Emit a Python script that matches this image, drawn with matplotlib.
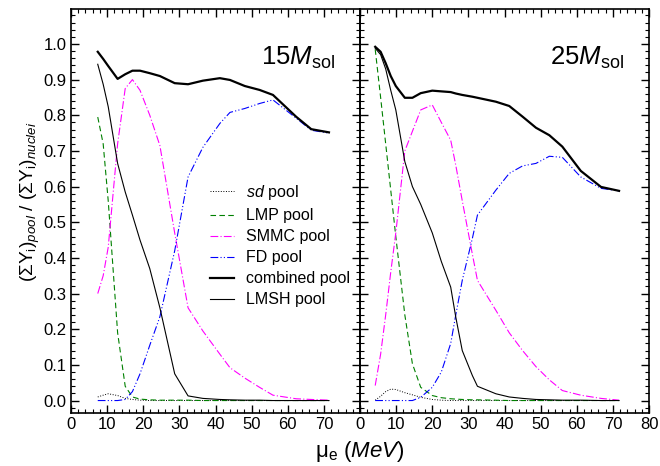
import matplotlib
matplotlib.use("Agg")
import matplotlib.pyplot as plt
from matplotlib.ticker import MultipleLocator, FormatStrFormatter

plt.rcParams['font.family'] = ['Liberation Sans', 'DejaVu Sans']
plt.rcParams['mathtext.fontset'] = 'custom'
plt.rcParams['mathtext.rm'] = 'Liberation Sans'
plt.rcParams['mathtext.it'] = 'Liberation Sans:italic'
plt.rcParams['mathtext.bf'] = 'Liberation Sans:bold'

# ---------- 15 M_sol ----------
mu_15 = [7.4, 8.9, 10.3, 12.9, 15.0, 17.0, 19.1, 21.8, 24.6, 28.7, 32.4, 36.5,
         41.2, 44.0, 48.1, 52.2, 55.9, 62.3, 66.5, 71.4]
sd_15 = [0.010, 0.015, 0.019, 0.014, 0.006, 0.003, 0.001, 0.0, 0.0, 0.0, 0.0, 0.0,
         0.0, 0.0, 0.0, 0.0, 0.0, 0.0, 0.0, 0.0]
lmp_15 = [0.795, 0.72, 0.56, 0.19, 0.04, 0.01, 0.004, 0.002, 0.001, 0.001, 0.001, 0.0,
          0.0, 0.0, 0.0, 0.0, 0.0, 0.0, 0.0, 0.0]
smmc_15 = [0.30, 0.35, 0.43, 0.72, 0.875, 0.90, 0.87, 0.80, 0.715, 0.47, 0.26, 0.195,
           0.13, 0.092, 0.063, 0.037, 0.015, 0.005, 0.003, 0.001]
fd_15 = [0.0, 0.0, 0.0, 0.0, 0.003, 0.025, 0.075, 0.155, 0.235, 0.42, 0.627, 0.71,
         0.777, 0.808, 0.819, 0.833, 0.843, 0.792, 0.758, 0.75]
comb_15 = [0.978, 0.958, 0.938, 0.902, 0.915, 0.925, 0.925, 0.918, 0.91, 0.89, 0.887, 0.897,
           0.904, 0.899, 0.882, 0.871, 0.857, 0.796, 0.761, 0.752]
lmsh_15 = [0.943, 0.887, 0.824, 0.665, 0.585, 0.52, 0.45, 0.37, 0.26, 0.075, 0.013, 0.006,
           0.003, 0.002, 0.001, 0.001, 0.0, 0.0, 0.0, 0.0]

# ---------- 25 M_sol ----------
mu_25 = [4.2, 5.7, 7.1, 8.5, 9.9, 12.4, 14.5, 16.8, 20.0, 22.5, 25.1, 26.5, 28.3,
         31.1, 32.5, 37.6, 41.3, 45.0, 48.7, 52.4, 56.0, 61.1, 66.7, 71.7]
sd_25 = [0.001, 0.012, 0.025, 0.032, 0.031, 0.022, 0.016, 0.009, 0.003, 0.001, 0.0, 0.0, 0.0,
         0.0, 0.0, 0.0, 0.0, 0.0, 0.0, 0.0, 0.0, 0.0, 0.0, 0.0]
lmp_25 = [0.985, 0.85, 0.72, 0.59, 0.46, 0.24, 0.103, 0.037, 0.014, 0.008, 0.005, 0.004, 0.003,
          0.002, 0.002, 0.001, 0.0, 0.0, 0.0, 0.0, 0.0, 0.0, 0.0, 0.0]
smmc_25 = [0.042, 0.13, 0.24, 0.36, 0.47, 0.70, 0.755, 0.815, 0.829, 0.78, 0.73, 0.66, 0.56,
           0.41, 0.337, 0.253, 0.19, 0.14, 0.095, 0.058, 0.028, 0.015, 0.006, 0.001]
fd_25 = [0.0, 0.0, 0.0, 0.0, 0.0, 0.0, 0.0, 0.009, 0.037, 0.08, 0.16, 0.24, 0.337,
         0.455, 0.52, 0.59, 0.637, 0.658, 0.665, 0.685, 0.682, 0.627, 0.595, 0.588]
comb_25 = [0.992, 0.978, 0.946, 0.91, 0.882, 0.849, 0.849, 0.862, 0.869, 0.867, 0.865, 0.861, 0.857,
           0.852, 0.849, 0.838, 0.826, 0.796, 0.765, 0.744, 0.712, 0.644, 0.599, 0.588]
lmsh_25 = [0.988, 0.97, 0.93, 0.87, 0.815, 0.67, 0.60, 0.55, 0.47, 0.39, 0.318, 0.234, 0.14,
           0.07, 0.04, 0.019, 0.01, 0.006, 0.003, 0.002, 0.001, 0.001, 0.0, 0.0]

y_ticks = [0.0, 0.1, 0.2, 0.3, 0.4, 0.5, 0.6, 0.7, 0.8, 0.9, 1.0]

panels = [
    (mu_15, sd_15, lmp_15, smmc_15, fd_15, comb_15, lmsh_15, r'15$M_{\mathrm{sol}}$'),
    (mu_25, sd_25, lmp_25, smmc_25, fd_25, comb_25, lmsh_25, r'25$M_{\mathrm{sol}}$'),
]

fig = plt.figure(figsize=(6.6, 4.66), dpi=100)
ax1 = fig.add_axes([0.1076, 0.1137, 0.4379, 0.867])
ax2 = fig.add_axes([0.5455, 0.1137, 0.4379, 0.867])

for ax, (mu, sd, lmp, smmc, fd, comb, lmsh, title) in zip([ax1, ax2], panels):
    ax.plot(mu, sd, color='black', linestyle=':', linewidth=0.7, label=r'$sd$ pool')
    ax.plot(mu, lmp, color='green', linestyle=(0, (5, 3)), linewidth=0.8, label='LMP pool')
    ax.plot(mu, smmc, color='magenta', linestyle=(0, (7, 2, 1, 2)), linewidth=0.8, label='SMMC pool')
    ax.plot(mu, fd, color='blue', linestyle=(0, (7, 2, 1, 2, 1, 2)), linewidth=0.8, label='FD pool')
    ax.plot(mu, comb, color='black', linewidth=1.6, label='combined pool')
    ax.plot(mu, lmsh, color='black', linewidth=0.8, label='LMSH pool')

    ax.set_xlim(0, 80)
    ax.set_ylim(-0.035, 1.098)
    ax.xaxis.set_minor_locator(MultipleLocator(2))
    ax.set_yticks(y_ticks)
    ax.yaxis.set_minor_locator(MultipleLocator(0.02))
    ax.yaxis.set_major_formatter(FormatStrFormatter('%.1f'))
    ax.tick_params(which='both', direction='in', top=True, right=True, labelsize=12, pad=3)
    ax.tick_params(which='major', length=6, width=1)
    ax.tick_params(which='minor', length=3, width=0.8)
    for s in ax.spines.values():
        s.set_linewidth(1.2)
    ax.text(0.912, 0.88, title, transform=ax.transAxes, ha='right', va='center', fontsize=18.5)

ax1.set_xticks(range(0, 80, 10))
ax2.set_xticks(range(0, 81, 10))
ax2.tick_params(labelleft=False)
ax2.patch.set_alpha(0)

ax1.set_ylabel(r'$(\Sigma \mathrm{Y}_\mathrm{i})_{pool}\ /\ (\Sigma \mathrm{Y}_\mathrm{i})_{nuclei}$',
               fontsize=13.7)
ax1.yaxis.set_label_coords(-0.10, 0.522)
fig.text(0.545, 0.032, r'μ$_\mathrm{e}$ $\mathit{(MeV)}$', ha='center', va='center', fontsize=16)

ax1.legend(loc='upper left', bbox_to_anchor=(0.46, 0.585), frameon=False, fontsize=11.5,
           handlelength=1.5, handletextpad=0.75, labelspacing=0.38, borderaxespad=0)

fig.savefig('out.png', dpi=100)
